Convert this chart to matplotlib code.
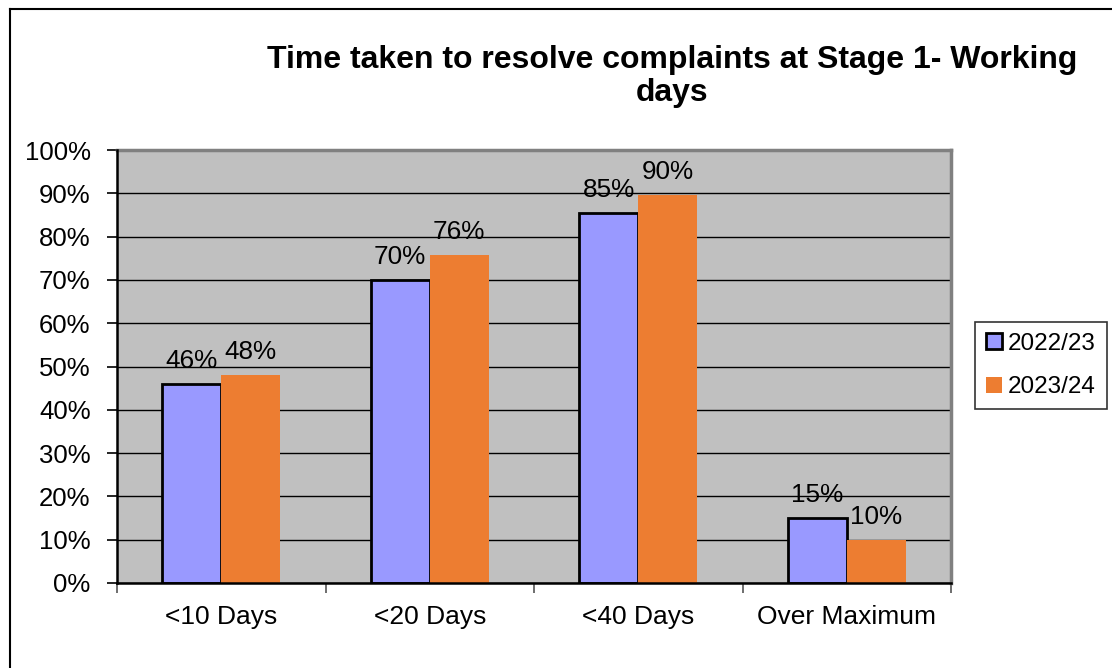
import matplotlib
matplotlib.use("agg")
import matplotlib.pyplot as plt
from matplotlib.lines import Line2D
import numpy as np

plt.rcParams["font.family"] = ["Liberation Sans", "DejaVu Sans"]

categories = ["<10 Days", "<20 Days", "<40 Days", "Over Maximum"]
series_names = ["2022/23", "2023/24"]
values_2022 = [46, 70, 85.4, 15]
values_2023 = [48, 75.7, 89.6, 9.9]
colors = ["#9999FF", "#ED7D31"]

W, H = 1112, 668
fig = plt.figure(figsize=(W / 100, H / 100), dpi=100)
ax = fig.add_axes([117 / W, 1 - 583 / H, (951 - 117) / W, (583 - 150) / H])
ax.set_facecolor("#C0C0C0")

x = np.arange(len(categories))
bw = 0.283
b1 = ax.bar(x - bw / 2, values_2022, bw, color=colors[0], edgecolor="black",
            linewidth=2, zorder=3, label=series_names[0])
b2 = ax.bar(x + bw / 2, values_2023, bw, color=colors[1], edgecolor="none",
            zorder=3, label=series_names[1])

for bars in (b1, b2):
    for rect in bars:
        h = rect.get_height()
        ax.annotate(f"{h:.0f}%", (rect.get_x() + rect.get_width() / 2, h),
                    xytext=(0, 8), textcoords="offset points",
                    ha="center", va="bottom", fontsize=18.8, zorder=4)

ax.set_ylim(0, 100)
ax.set_xlim(-0.5, len(categories) - 0.5)
ax.set_yticks(np.arange(0, 101, 10))
ax.set_yticklabels([f"{v}%" for v in range(0, 101, 10)], fontsize=18.5)
ax.yaxis.grid(True, color="black", linewidth=1, zorder=1)
ax.set_axisbelow(True)

ax.set_xticks(x)
ax.set_xticklabels(categories, fontsize=19)
ax.tick_params(axis="x", which="major", length=0, pad=16)
ax.set_xticks(np.arange(-0.5, len(categories), 1), minor=True)
ax.tick_params(axis="x", which="minor", length=7, color="#555555", width=1.2)
ax.tick_params(axis="y", length=7, width=1.2, pad=12, color="black")

for s in ("top", "right"):
    ax.spines[s].set_color("#808080")
    ax.spines[s].set_linewidth(2.5)
for s in ("left", "bottom"):
    ax.spines[s].set_color("black")
    ax.spines[s].set_linewidth(1.8)
    ax.spines[s].set_zorder(5)

fig.text(672 / W, 1 - 76.5 / H,
         "Time taken to resolve complaints at Stage 1- Working\ndays",
         ha="center", va="center", fontsize=23, fontweight="bold",
         linespacing=1.17)

handles = [
    plt.Rectangle((0, 0), 1, 1, facecolor=colors[0], edgecolor="black", linewidth=2),
    plt.Rectangle((0, 0), 1, 1, facecolor=colors[1], edgecolor="none"),
]
leg = fig.legend(handles, series_names, loc="center",
                 bbox_to_anchor=(1041 / W, 1 - 365.5 / H),
                 fontsize=17.5, frameon=True, fancybox=False, edgecolor="black",
                 handlelength=0.65, handleheight=0.65, handletextpad=0.25,
                 labelspacing=0.9, borderpad=0.45, borderaxespad=0)
leg.get_frame().set_linewidth(1.2)

# outer chart border (left and top visible)
fig.add_artist(Line2D([10 / W, 10 / W], [0, 1 - 9 / H], color="black", linewidth=1.5))
fig.add_artist(Line2D([10 / W, 1], [1 - 9 / H, 1 - 9 / H], color="black", linewidth=1.5))

fig.savefig("out.png", dpi=100)
plt.close(fig)
